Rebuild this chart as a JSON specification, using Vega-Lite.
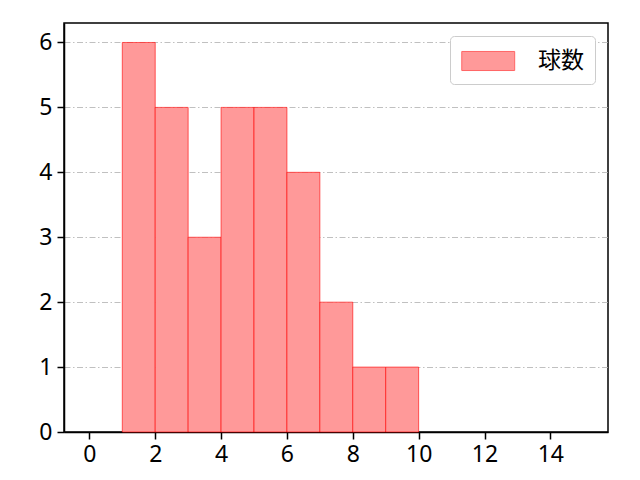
{
  "$schema": "https://vega.github.io/schema/vega-lite/v6.json",
  "width": 544,
  "height": 409,
  "autosize": "none",
  "padding": {"left": 64, "top": 23, "right": 32, "bottom": 48},
  "background": "white",
  "config": {
    "view": {"stroke": "black", "strokeWidth": 1.5},
    "font": "Noto Sans CJK JP",
    "axis": {
      "labelFont": "Noto Sans",
      "labelFontSize": 23,
      "labelColor": "black",
      "domainColor": "black",
      "domainWidth": 1.5,
      "tickColor": "black",
      "tickWidth": 1.5,
      "tickSize": 7,
      "labelPadding": 4
    }
  },
  "data": {
    "values": [
      {"bin_start": 1, "bin_end": 2, "count": 6, "series": "球数"},
      {"bin_start": 2, "bin_end": 3, "count": 5, "series": "球数"},
      {"bin_start": 3, "bin_end": 4, "count": 3, "series": "球数"},
      {"bin_start": 4, "bin_end": 5, "count": 5, "series": "球数"},
      {"bin_start": 5, "bin_end": 6, "count": 5, "series": "球数"},
      {"bin_start": 6, "bin_end": 7, "count": 4, "series": "球数"},
      {"bin_start": 7, "bin_end": 8, "count": 2, "series": "球数"},
      {"bin_start": 8, "bin_end": 9, "count": 1, "series": "球数"},
      {"bin_start": 9, "bin_end": 10, "count": 1, "series": "球数"}
    ]
  },
  "mark": {
    "type": "bar",
    "stroke": "#ff0000",
    "strokeOpacity": 0.6,
    "strokeWidth": 1,
    "opacity": 1
  },
  "encoding": {
    "x": {
      "field": "bin_start",
      "type": "quantitative",
      "scale": {"domain": [-0.77, 15.75], "nice": false, "zero": false, "padding": 0},
      "axis": {"title": null, "values": [0, 2, 4, 6, 8, 10, 12, 14], "grid": false, "labelFlush": false}
    },
    "x2": {"field": "bin_end"},
    "y": {
      "field": "count",
      "type": "quantitative",
      "scale": {"domain": [0, 6.3], "nice": false, "padding": 0},
      "axis": {
        "title": null,
        "values": [0, 1, 2, 3, 4, 5, 6],
        "grid": true,
        "gridColor": "#b0b0b0",
        "gridWidth": 0.8,
        "gridDash": [6, 2.5, 1.5, 2.5],
        "labelFlush": false,
        "labelPadding": 5
      }
    },
    "y2": {"datum": 0},
    "color": {
      "field": "series",
      "type": "nominal",
      "scale": {"range": ["#ff9999"]},
      "legend": {
        "title": null,
        "orient": "top-right",
        "offset": 13,
        "padding": 11,
        "strokeColor": "#cccccc",
        "cornerRadius": 4,
        "fillColor": "white",
        "symbolType": "M-1,-0.72L3,-0.72L3,0.72L-1,0.72Z",
        "symbolSize": 700,
        "symbolStrokeColor": "#ff6666",
        "symbolStrokeWidth": 1,
        "symbolOpacity": 1,
        "labelFont": "Noto Sans CJK JP",
        "labelFontSize": 23,
        "labelColor": "black",
        "labelOffset": 49
      }
    }
  }
}
